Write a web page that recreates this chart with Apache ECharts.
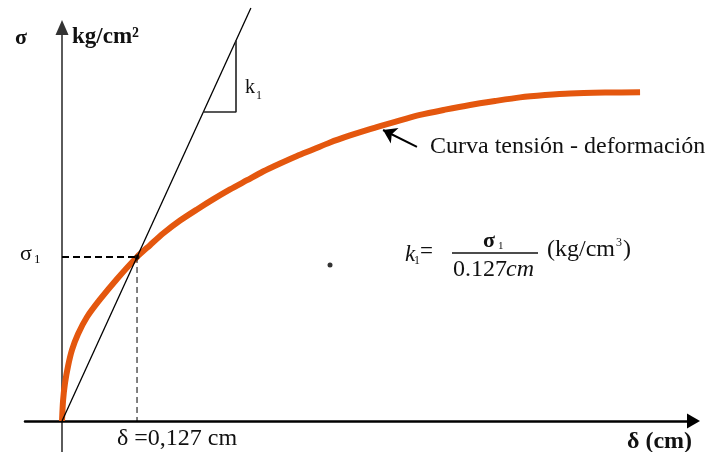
<!DOCTYPE html>
<html>
<head>
<meta charset="utf-8">
<script src="https://cdn.jsdelivr.net/npm/echarts@6.0.0/dist/echarts.min.js"></script>
<style>
  html, body { margin: 0; padding: 0; background: #fff; }
  #main { width: 709px; height: 452px; }
</style>
</head>
<body>
<div id="main"></div>
<script>
// stress-strain curve (sigma normalised to sigma1, delta in cm)
const strainCm = [0, 0.0017, 0.0051, 0.0102, 0.0169, 0.0271, 0.0423, 0.0643, 0.0931, 0.127, 0.149, 0.171, 0.1998, 0.2286, 0.2557, 0.2845, 0.3133, 0.3404, 0.3692, 0.3979, 0.425, 0.4538, 0.4877, 0.5215, 0.5639, 0.6062, 0.6486, 0.6909, 0.7332, 0.7756, 0.8179, 0.8602, 0.9195, 0.9788];
const stress   = [0, 0.122, 0.232, 0.335, 0.433, 0.530, 0.634, 0.741, 0.866, 1.0, 1.072, 1.143, 1.222, 1.290, 1.351, 1.412, 1.468, 1.521, 1.570, 1.616, 1.655, 1.698, 1.741, 1.780, 1.824, 1.866, 1.898, 1.927, 1.951, 1.973, 1.987, 1.997, 2.002, 2.004];

// secant line through (0.127 cm, sigma1)
const secantDelta = [0, 0.3198];
const secantStress = [0, 2.518];

// k1 slope triangle
const triDelta = [0.2393, 0.2946, 0.2946];
const triStress = [1.884, 1.884, 2.32];

const refDelta = 0.127;
const refStress = 1.0;

// intersection point and the stray dot in the figure
const dots = [[refDelta, refStress], [0.4538, 0.951]];

// leader arrow for the curve label
const arrowFrom = [0.601, 1.671];
const arrowTo = [0.5436, 1.774];

const zip = (a, b) => a.map((v, i) => [v, b[i]]);

const serif = 'Liberation Serif';
const txt = (text, x, y, size, extra) => Object.assign({
  type: 'text', x: x, y: y,
  style: Object.assign({
    text: text, fill: '#111', font: size + 'px "' + serif + '"',
    textAlign: 'left', textVerticalAlign: 'middle', align: 'left', verticalAlign: 'middle'
  }, extra || {})
});

const chart = echarts.init(document.getElementById('main'));
const option = {
  animation: false,
  backgroundColor: '#fff',
  grid: { left: 25, right: 15.5, top: 27.5, bottom: 0 },
  xAxis: {
    type: 'value', min: -0.0627, max: 1.0693,
    axisLine: { onZero: true, symbol: ['none', 'triangle'], symbolSize: [15, 13], lineStyle: { color: '#000', width: 2.5 } },
    axisTick: { show: false }, axisLabel: { show: false }, splitLine: { show: false }
  },
  yAxis: {
    type: 'value', min: -0.189, max: 2.399,
    axisLine: { onZero: true, symbol: ['none', 'triangle'], symbolSize: [13, 15], lineStyle: { color: '#333', width: 1.6 } },
    axisTick: { show: false }, axisLabel: { show: false }, splitLine: { show: false }
  },
  series: [
    {
      type: 'line', data: zip(strainCm, stress), smooth: 0.25, symbol: 'none', z: 3,
      lineStyle: { color: '#e4570e', width: 6 }
    },
    {
      type: 'line', data: zip(secantDelta, secantStress), symbol: 'none', clip: false, z: 4,
      lineStyle: { color: '#000', width: 1.3 }
    },
    {
      type: 'line', data: zip(triDelta, triStress), symbol: 'none', z: 4,
      lineStyle: { color: '#222', width: 1.6 }
    },
    {
      type: 'line', data: [[0, refStress], [refDelta, refStress]], symbol: 'none', z: 4,
      lineStyle: { color: '#000', width: 2, type: [7, 4] }
    },
    {
      type: 'line', data: [[refDelta, refStress], [refDelta, 0]], symbol: 'none', z: 4,
      lineStyle: { color: '#000', width: 1, type: [6, 4] }
    },
    {
      type: 'scatter', data: dots, symbolSize: 5, z: 5,
      itemStyle: { color: '#000' }
    },
    {
      type: 'lines', coordinateSystem: 'cartesian2d', z: 5,
      symbol: ['none', 'arrow'], symbolSize: 13,
      lineStyle: { color: '#000', width: 2, opacity: 1 },
      data: [{ coords: [arrowFrom, arrowTo] }]
    }
  ],
  graphic: [
    txt('σ', 15, 38, 22, { font: 'bold 22px "' + serif + '"' }),
    txt('kg/cm²', 72, 37, 23, { font: 'bold 23px "' + serif + '"' }),
    txt('k', 245, 88, 20),
    txt('1', 256, 96, 12),
    txt('Curva tensión - deformación', 430, 147, 24),
    txt('σ', 20, 254, 22),
    txt('1', 34, 260, 13),
    txt('δ =0,127 cm', 117, 439, 24),
    txt('δ (cm)', 627, 442, 24, { font: 'bold 24px "' + serif + '"' }),
    txt('k', 405, 255, 23, { font: 'italic 23px "' + serif + '"' }),
    txt('1', 414, 261, 12),
    txt('=', 420, 252, 23),
    { type: 'line', shape: { x1: 452, y1: 253, x2: 538, y2: 253 }, style: { stroke: '#111', lineWidth: 1.5 } },
    txt('σ', 483, 241, 22, { font: 'bold 22px "' + serif + '"' }),
    txt('1', 498, 246, 11),
    txt('0.127', 453, 270, 24),
    txt('cm', 534, 270, 24, { font: 'italic 24px "' + serif + '"', textAlign: 'right', align: 'right' }),
    txt('(kg/cm', 547, 250, 24),
    txt('3', 616, 243, 12),
    txt(')', 623, 250, 24)
  ]
};
chart.setOption(option);
</script>
</body>
</html>
